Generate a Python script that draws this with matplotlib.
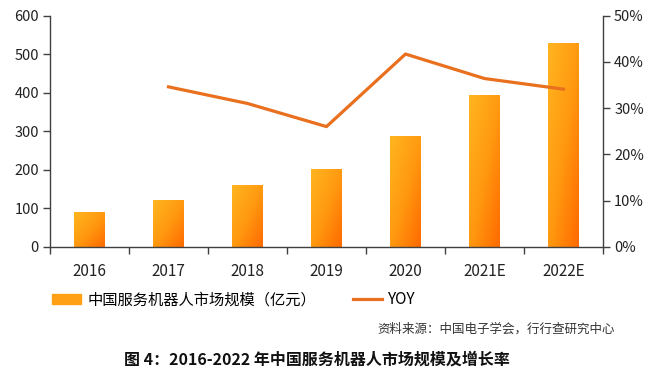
import numpy as np
import matplotlib.pyplot as plt
from matplotlib.colors import LinearSegmentedColormap
from matplotlib.ticker import PercentFormatter
from matplotlib.patches import Rectangle
from matplotlib.lines import Line2D

plt.rcParams['font.family'] = ['Noto Sans CJK SC', 'DejaVu Sans']

years = ['2016', '2017', '2018', '2019', '2020', '2021E', '2022E']
market = [90, 122, 160, 203, 288, 394, 529]          # 亿元
yoy_years = ['2017', '2018', '2019', '2020', '2021E', '2022E']
yoy = [34.6, 31.0, 26.0, 41.7, 36.4, 34.1]           # %

bar_label = '中国服务机器人市场规模（亿元）'
line_label = 'YOY'
source = '资料来源：中国电子学会，行行查研究中心'
caption = '图 4：2016-2022 年中国服务机器人市场规模及增长率'

axis_col = '#404040'
line_col = '#E8701E'
grad = LinearSegmentedColormap.from_list('g', ['#FFB520', '#FF9A10', '#FF6A00'])

fig = plt.figure(figsize=(6.6, 3.85), dpi=100)
ax = fig.add_axes([50 / 660, 1 - 246.7 / 385, 553 / 660, 231 / 385])
ax2 = ax.twinx()

x = np.arange(len(years))
bars = ax.bar(x, market, width=0.39, color='#FF9A10', zorder=2)

# diagonal gradient inside each bar
gy, gx = np.mgrid[0:1:100j, 0:1:100j]
g = (gx + gy) / 2
for b in bars:
    b.set_facecolor('none')
    x0, y0 = b.get_x(), b.get_y()
    im = ax.imshow(g, cmap=grad, extent=[x0, x0 + b.get_width(), y0, y0 + b.get_height()],
                   origin='upper', aspect='auto', zorder=2)
    im.set_clip_path(b)

xi = [years.index(y) for y in yoy_years]
ax2.plot(xi, yoy, color=line_col, lw=2.3, zorder=3)

ax.set_xlim(-0.5, len(years) - 0.5)
ax.set_ylim(0, 600)
ax.set_yticks(range(0, 601, 100))
ax2.set_ylim(0, 50)
ax2.set_yticks(range(0, 51, 10))
ax2.yaxis.set_major_formatter(PercentFormatter(decimals=0))

ax.set_xticks(x)
ax.set_xticklabels(years)
ax.set_xticks(np.arange(-0.5, len(years), 1), minor=True)
ax.tick_params(axis='x', which='major', length=0, pad=12, labelsize=11, colors='#222222')
ax.tick_params(axis='x', which='minor', length=5, width=1, color=axis_col, direction='out')
ax.tick_params(axis='y', length=5, width=1, color=axis_col, labelsize=10.5, labelcolor='#222222', pad=3)
ax2.tick_params(axis='y', length=5, width=1, color=axis_col, labelsize=10.5, labelcolor='#222222', pad=3)

for a in (ax, ax2):
    a.spines['top'].set_visible(False)
    for s in ('left', 'right', 'bottom'):
        a.spines[s].set_color(axis_col)
        a.spines[s].set_linewidth(1)
ax.spines['right'].set_visible(False)
ax2.spines['left'].set_visible(False)
ax2.spines['bottom'].set_visible(False)

# legend
handles = [Rectangle((0, 0), 1, 1, color='#FFA015'), Line2D([], [], color=line_col, lw=2.3)]
fig.legend(handles, [bar_label, line_label], loc='center left', bbox_to_anchor=(52 / 660, 1 - 300 / 385),
           ncol=2, frameon=False, fontsize=11, handlelength=1.9, handleheight=0.65,
           handletextpad=0.4, columnspacing=2.4, borderpad=0, borderaxespad=0)

fig.text(615 / 660, 1 - 329 / 385, source, ha='right', va='center', fontsize=9, color='#333333')
fig.text(317 / 660, 1 - 360 / 385, caption, ha='center', va='center', fontsize=11.5, fontweight='bold',
         color='#111111')

fig.savefig('out.png', dpi=100)
